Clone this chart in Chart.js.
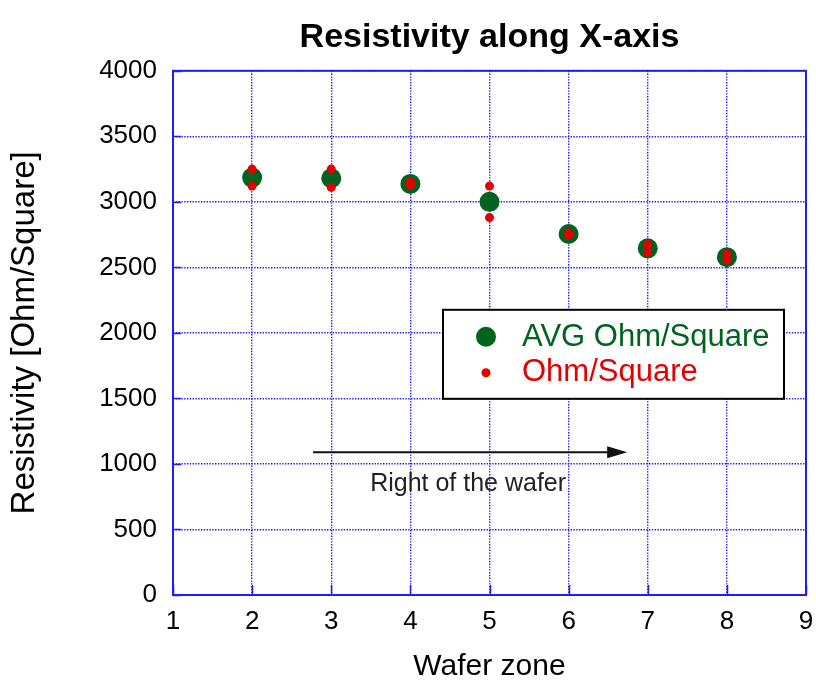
<!DOCTYPE html>
<html>
<head>
<meta charset="utf-8">
<title>Resistivity along X-axis</title>
<script src="https://cdn.jsdelivr.net/npm/chart.js@4/dist/chart.umd.min.js"></script>
<style>
  html, body { margin: 0; padding: 0; background: #fff; }
  #wrap { width: 816px; height: 682px; }
</style>
</head>
<body>
<div id="wrap"><canvas id="chart" width="816" height="682"></canvas></div>
<script>
// Zonas del wafer y resistividad medida
const zones = [2, 3, 4, 5, 6, 7, 8];
const avgOhm = [3185, 3180, 3137, 3000, 2755, 2645, 2578];
const ohmTop = [3250, 3250, 3150, 3120, 2765, 2675, 2600];
const ohmBottom = [3120, 3110, 3125, 2880, 2745, 2615, 2555];

const xTicks = [1, 2, 3, 4, 5, 6, 7, 8, 9];
const yTicks = [0, 500, 1000, 1500, 2000, 2500, 3000, 3500, 4000];

// Flecha "Right of the wafer" (en unidades de los ejes)
const arrowFrom = 2.77;
const arrowTo = 6.74;
const arrowY = 1090;
const arrowText = 'Right of the wafer';

const legendLabels = ['AVG Ohm/Square', 'Ohm/Square'];

const FONT = '"Liberation Sans", Arial, sans-serif';
const GREEN = 'rgb(0, 100, 30)';
const RED = 'rgb(228, 0, 0)';
const BLUE = 'rgb(30, 30, 245)';

// Puntos individuales: dos lecturas por zona
const ohmPoints = [];
zones.forEach((z, i) => {
  ohmPoints.push({ x: z, y: ohmTop[i] });
  ohmPoints.push({ x: z, y: ohmBottom[i] });
});

// Marco, ticks internos, flecha y leyenda
const decoraciones = {
  id: 'decoraciones',
  afterDatasetsDraw(chart) {
    const { ctx, chartArea: a, scales: { x, y } } = chart;
    ctx.save();

    // marco del área
    ctx.strokeStyle = BLUE;
    ctx.lineWidth = 2;
    ctx.setLineDash([]);
    ctx.strokeRect(a.left, a.top, a.right - a.left, a.bottom - a.top);

    // ticks hacia adentro
    ctx.lineWidth = 1.5;
    ctx.beginPath();
    yTicks.forEach(v => {
      const py = Math.round(y.getPixelForValue(v)) + 0.5;
      ctx.moveTo(a.left, py);
      ctx.lineTo(a.left + 8, py);
    });
    xTicks.forEach(v => {
      const px = Math.round(x.getPixelForValue(v)) + 0.5;
      ctx.moveTo(px, a.bottom);
      ctx.lineTo(px, a.bottom - 10);
    });
    ctx.stroke();

    // flecha
    const x0 = x.getPixelForValue(arrowFrom);
    const x1 = x.getPixelForValue(arrowTo);
    const py = y.getPixelForValue(arrowY);
    ctx.strokeStyle = '#111';
    ctx.fillStyle = '#111';
    ctx.lineWidth = 2;
    ctx.beginPath();
    ctx.moveTo(x0, py);
    ctx.lineTo(x1 - 12, py);
    ctx.stroke();
    ctx.beginPath();
    ctx.moveTo(x1, py);
    ctx.lineTo(x1 - 20, py - 6);
    ctx.lineTo(x1 - 20, py + 6);
    ctx.closePath();
    ctx.fill();

    ctx.font = '25px ' + FONT;
    ctx.fillStyle = '#222';
    ctx.textAlign = 'center';
    ctx.textBaseline = 'middle';
    ctx.fillText(arrowText, (x0 + x1) / 2 - 2, py + 32);

    // leyenda
    const lx = a.left + 270, ly = a.top + 239, lw = 341, lh = 89;
    ctx.fillStyle = '#fff';
    ctx.fillRect(lx, ly, lw, lh);
    ctx.strokeStyle = '#000';
    ctx.lineWidth = 2;
    ctx.strokeRect(lx, ly, lw, lh);

    ctx.textAlign = 'left';
    ctx.font = '31px ' + FONT;
    ctx.fillStyle = GREEN;
    ctx.beginPath();
    ctx.arc(lx + 43, ly + 27, 10, 0, Math.PI * 2);
    ctx.fill();
    ctx.fillText(legendLabels[0], lx + 79, ly + 28);

    ctx.fillStyle = RED;
    ctx.beginPath();
    ctx.arc(lx + 43, ly + 63, 4.5, 0, Math.PI * 2);
    ctx.fill();
    ctx.fillText(legendLabels[1], lx + 79, ly + 63);

    ctx.restore();
  }
};

new Chart(document.getElementById('chart'), {
  type: 'scatter',
  data: {
    datasets: [
      {
        label: legendLabels[1],
        data: ohmPoints,
        backgroundColor: RED,
        borderWidth: 0,
        pointRadius: 4.5,
        order: 0
      },
      {
        label: legendLabels[0],
        data: zones.map((z, i) => ({ x: z, y: avgOhm[i] })),
        backgroundColor: GREEN,
        borderWidth: 0,
        pointRadius: 10,
        order: 1
      }
    ]
  },
  options: {
    responsive: false,
    animation: false,
    layout: { padding: { top: 0, right: 10, bottom: 0, left: 0 } },
    plugins: {
      legend: { display: false },
      tooltip: { enabled: false },
      title: {
        display: true,
        fullSize: false,
        text: 'Resistivity along X-axis',
        color: '#000',
        font: { family: FONT, size: 34, weight: 'bold', lineHeight: 1.2 },
        padding: { top: 17, bottom: 13 }
      }
    },
    scales: {
      x: {
        type: 'linear',
        min: 1,
        max: 9,
        afterFit: s => { s.height = 87; s.paddingLeft = 0; s.paddingRight = 0; },
        afterBuildTicks: s => { s.ticks = xTicks.map(v => ({ value: v })); },
        ticks: { color: '#000', padding: 11, font: { family: FONT, size: 26 }, callback: v => String(v) },
        grid: { color: BLUE, lineWidth: 1.4, drawTicks: false },
        border: { display: false, dash: [1.4, 1.4] },
        title: {
          display: true,
          text: 'Wafer zone',
          color: '#000',
          font: { family: FONT, size: 30, lineHeight: 1 },
          padding: { top: 0, bottom: 0 }
        }
      },
      y: {
        type: 'linear',
        min: 0,
        max: 4000,
        afterFit: s => { s.width = 173; s.paddingTop = 0; s.paddingBottom = 0; },
        afterBuildTicks: s => { s.ticks = yTicks.map(v => ({ value: v })); },
        ticks: { color: '#000', padding: 16, font: { family: FONT, size: 26 }, callback: v => String(v) },
        grid: { color: BLUE, lineWidth: 1.4, drawTicks: false },
        border: { display: false, dash: [1.4, 1.4] },
        title: {
          display: true,
          text: 'Resistivity [Ohm/Square]',
          color: '#000',
          font: { family: FONT, size: 33, lineHeight: 1 },
          padding: { top: 8, bottom: 0 }
        }
      }
    }
  },
  plugins: [decoraciones]
});
</script>
</body>
</html>
